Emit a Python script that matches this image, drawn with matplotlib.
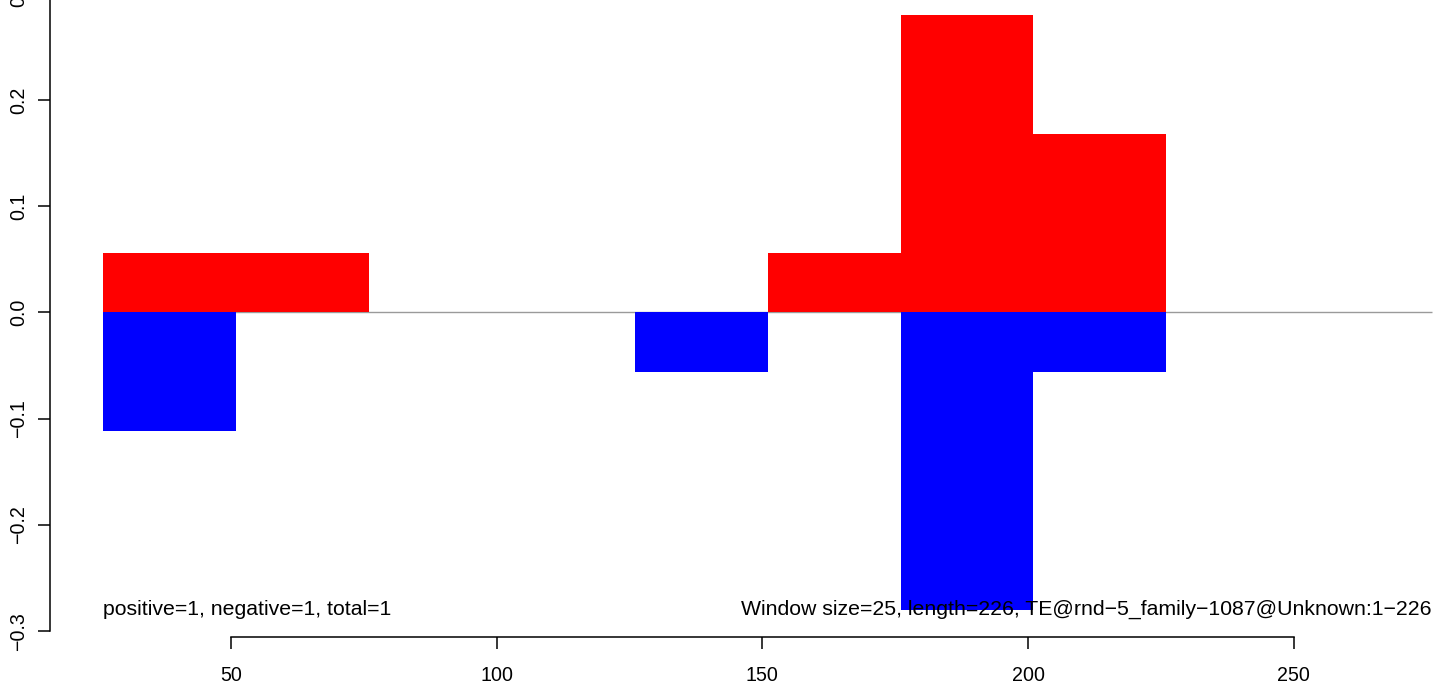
import numpy as np
import matplotlib.pyplot as plt

plt.rcParams['font.family'] = ['Liberation Sans', 'DejaVu Sans']

## window starts (size 25) and signal per window
win_start = [26, 51, 76, 101, 126, 151, 176, 201, 226, 251]
pos_vals = [0.056, 0.056, 0, 0, 0, 0.056, 0.28, 0.168, 0, 0]
neg_vals = [-0.112, 0, 0, 0, -0.056, 0, -0.28, -0.056, 0, 0]
win_size = 25
seq_start, seq_end = 26, 276
xticks = [50, 100, 150, 200, 250]
yticks = [-0.3, -0.2, -0.1, 0.0, 0.1, 0.2, 0.3]
left_txt = "positive=1, negative=1, total=1"
right_txt = "Window size=25, length=226, TE@rnd\u22125_family\u22121087@Unknown:1\u2212226"

fig = plt.figure(figsize=(14.44, 6.82), dpi=100)
ax = fig.add_axes([0.03483, 0.0667, 0.9936, 0.9464])
ax.set_xlim(16, 286)
ax.set_ylim(-0.305, 0.3024)

## baseline first, bars on top
ax.hlines(0, seq_start, seq_end, color='#9a9a9a', lw=1.0, zorder=1)
ax.bar(win_start, pos_vals, width=win_size, align='edge', color='#ff0000', lw=0, zorder=2)
ax.bar(win_start, neg_vals, width=win_size, align='edge', color='#0000ff', lw=0, zorder=2)

ax.text(seq_start, -0.2845, left_txt, ha='left', va='baseline', fontsize=15.3, zorder=3)
ax.text(seq_end, -0.2845, right_txt, ha='right', va='baseline', fontsize=15.3, zorder=3)

## R-like detached axes
for s in ['top', 'right']:
    ax.spines[s].set_visible(False)
ax.spines['left'].set_bounds(-0.3, 0.3)
ax.spines['bottom'].set_bounds(50, 250)
ax.spines['left'].set_linewidth(1.1)
ax.spines['bottom'].set_linewidth(1.1)
ax.set_xticks(xticks)
ax.set_xticklabels([str(t) for t in xticks])
ax.set_yticks(yticks)
ax.set_yticklabels([("%.1f" % t).replace('-', '\u2212') for t in yticks], rotation=90, va='center')
ax.tick_params(axis='both', direction='out', length=8.6, width=1.1, labelsize=14.1)
ax.tick_params(axis='x', pad=12.5)
ax.tick_params(axis='y', pad=7.5)
ax.patch.set_alpha(0)

fig.savefig("out.png", dpi=100)
